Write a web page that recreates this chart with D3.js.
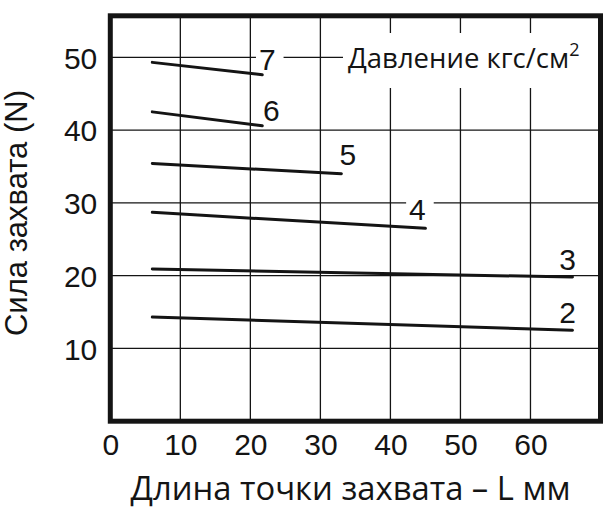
<!DOCTYPE html>
<html><head><meta charset="utf-8">
<script src="https://cdn.jsdelivr.net/npm/d3@7"></script>
<style>body{margin:0;background:#fff}svg{display:block}</style>
</head><body>
<svg id="c" width="612" height="509"></svg>
<script>
// ---- data ----
const pressures = ["2", "3", "4", "5", "6", "7"];
const xStart = [6, 6, 6, 6, 6, 6];
const xEnd   = [66, 66, 45, 33, 21.7, 21.7];
const yStart = [14.3, 20.9, 28.7, 35.4, 42.5, 49.3];
const yEnd   = [12.5, 19.8, 26.5, 34.0, 40.6, 47.6];
const xTicks = [0, 10, 20, 30, 40, 50, 60];
const yTicks = [10, 20, 30, 40, 50];
const xTitle = "Длина точки захвата – L мм";
const yTitle = "Сила захвата (N)";
const legendTitle = "Давление кгс/см";
const legendSup = "2";

// ---- layout ----
const L = 110.3, R = 600.5, T = 15.8, B = 421.2;
const labelOffsets = [[-5,-7],[-5,-7],[-8,-8],[6.5,-9],[9,-5],[5,-5]];
const ink = "#141414";

const svg = d3.select("#c");
const x = d3.scaleLinear().domain([0, 70]).range([L, R]);
const y = d3.scaleLinear().domain([0, 55.7]).range([B, T]);

// grid
const g = svg.append("g");
g.selectAll("line.v").data(xTicks.filter(d => d > 0)).join("line")
  .attr("x1", d => x(d)).attr("x2", d => x(d)).attr("y1", T).attr("y2", B)
  .attr("stroke", ink).attr("stroke-width", 1.3);
g.selectAll("line.h").data(yTicks).join("line")
  .attr("y1", d => y(d)).attr("y2", d => y(d)).attr("x1", L).attr("x2", R)
  .attr("stroke", ink).attr("stroke-width", 1.3);

// legend background
svg.append("rect").attr("x", 343).attr("y", 33).attr("width", R - 343 - 2).attr("height", 55).attr("fill", "#fff");

const series = pressures.map((p, i) => ({p, pts: [[xStart[i], yStart[i]], [xEnd[i], yEnd[i]]], off: labelOffsets[i]}));

// label backgrounds
const fontNum = "'Liberation Sans', Arial, sans-serif";
svg.selectAll("rect.lb").data(series).join("rect")
  .attr("x", d => x(d.pts[1][0]) + d.off[0] - 8.3 - 3)
  .attr("y", d => y(d.pts[1][1]) + d.off[1] - 24)
  .attr("width", 16.6 + 11).attr("height", 26)
  .attr("fill", "#fff");

// lines
const line = d3.line().x(d => x(d[0])).y(d => y(d[1]));
svg.selectAll("path.s").data(series).join("path")
  .attr("d", d => line(d.pts)).attr("fill", "none")
  .attr("stroke", ink).attr("stroke-width", 3).attr("stroke-linecap", "round");

// line labels
svg.selectAll("text.lab").data(series).join("text")
  .attr("x", d => x(d.pts[1][0]) + d.off[0])
  .attr("y", d => y(d.pts[1][1]) + d.off[1])
  .attr("text-anchor", "middle").attr("font-family", fontNum).attr("font-size", 30)
  .attr("fill", ink).text(d => d.p);

// frame
svg.append("rect").attr("x", L).attr("y", T).attr("width", R - L).attr("height", B - T)
  .attr("fill", "none").attr("stroke", ink).attr("stroke-width", 5);

// axes
const ax = svg.append("g").attr("transform", `translate(0,${B})`)
  .call(d3.axisBottom(x).tickValues(xTicks).tickSize(0).tickPadding(12.5).tickFormat(d3.format("d")));
ax.select(".domain").remove();
ax.selectAll("text").attr("font-family", fontNum).attr("font-size", 30).attr("fill", ink);

const ay = svg.append("g").attr("transform", `translate(${L},0)`)
  .call(d3.axisLeft(y).tickValues(yTicks).tickSize(0).tickPadding(13).tickFormat(d3.format("d")));
ay.select(".domain").remove();
ay.selectAll("text").attr("font-family", fontNum).attr("font-size", 30).attr("fill", ink).attr("dy", "0.36em");

// legend title
const lt = svg.append("text").attr("x", 348).attr("y", 68)
  .attr("font-family", "'Open Sans', sans-serif").attr("font-size", 27.5).attr("fill", ink);
lt.append("tspan").text(legendTitle);
lt.append("tspan").attr("dy", -12).attr("font-size", 18).text(legendSup);

// axis titles
svg.append("text").attr("x", 350.5).attr("y", 500).attr("text-anchor", "middle")
  .attr("font-family", "'Open Sans', sans-serif").attr("font-size", 32.8).attr("fill", ink).text(xTitle);
svg.append("text").attr("transform", "translate(27,213) rotate(-90)").attr("text-anchor", "middle")
  .attr("font-family", fontNum).attr("font-size", 31).attr("fill", ink).text(yTitle);
</script>
</body></html>
